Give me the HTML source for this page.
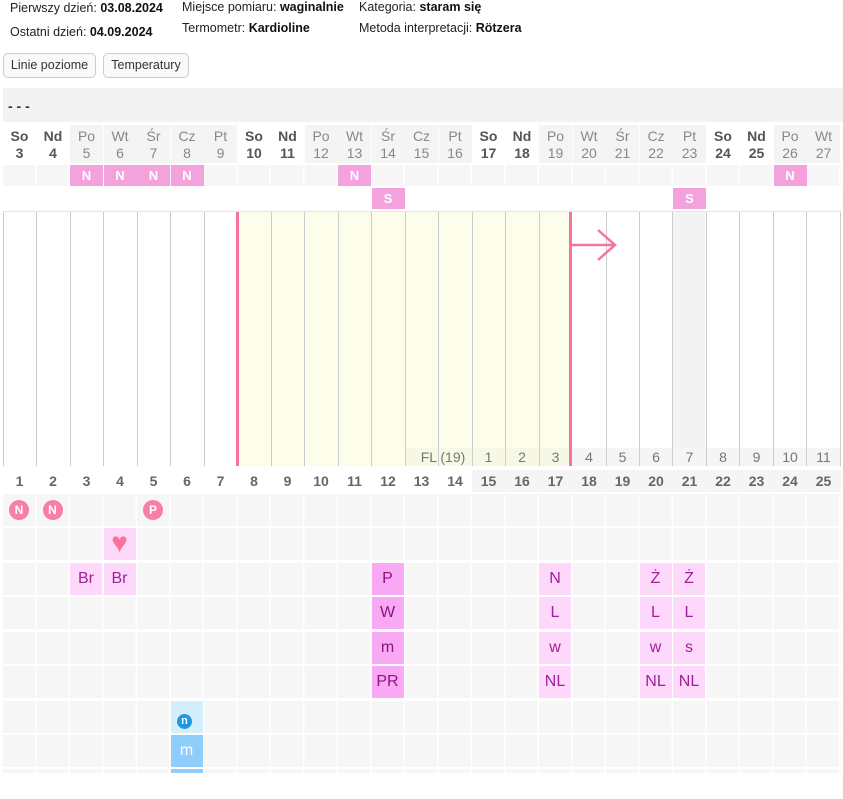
<!DOCTYPE html><html><head><meta charset="utf-8"><style>
body{margin:0;width:843px;height:799px;background:#fff;font-family:"Liberation Sans",sans-serif;position:relative;overflow:hidden}
.a{position:absolute}
.t{font-size:12.5px;color:#222;position:absolute;white-space:nowrap}
.t b{color:#111}
.btn{position:absolute;top:53px;height:23px;border:1px solid #ccc;border-radius:5px;background:#f9f9f9;font-size:12.5px;line-height:23px;text-align:center;color:#333}
.dh{position:absolute;top:125px;width:33px;height:38px;text-align:center;font-size:14px;line-height:17px;color:#888;background:#f4f4f4;padding-top:3px;box-sizing:border-box}
.dh.w{background:#fff;color:#555;font-weight:bold}
.nb{position:absolute;width:33px;height:21px;background:#f4a2de;color:#fff;font-size:13px;font-weight:bold;text-align:center;line-height:21px}
.gr{position:absolute;left:3px;width:838px;background:repeating-linear-gradient(90deg,#f6f6f6 0 32px,#fff 32px 33.5px)}
.vl{position:absolute;top:212px;height:254px;width:1px;background:#ccc}
.c{position:absolute;width:32px;height:32px;text-align:center;line-height:32px;font-size:16px;color:#a0209a}
.lt{background:#fdd8fb}.dk{background:#f9a9f3;color:#8a1382}
.cn{position:absolute;top:470px;width:33px;text-align:center;font-size:14px;font-weight:bold;color:#666;line-height:22px}
.fl{position:absolute;top:448px;width:33px;height:18px;text-align:center;font-size:14px;color:#777;line-height:18px}
.ci{position:absolute;width:20px;height:20px;border-radius:50%;background:#f77fa5;color:#fff;font-size:12px;font-weight:bold;text-align:center;line-height:20px}
</style></head><body>
<div class="t" style="left:10px;top:1px">Pierwszy dzień: <b>03.08.2024</b></div>
<div class="t" style="left:10px;top:25px">Ostatni dzień: <b>04.09.2024</b></div>
<div class="t" style="left:182px;top:0px">Miejsce pomiaru: <b>waginalnie</b></div>
<div class="t" style="left:182px;top:21px">Termometr: <b>Kardioline</b></div>
<div class="t" style="left:359px;top:0px">Kategoria: <b>staram się</b></div>
<div class="t" style="left:359px;top:21px">Metoda interpretacji: <b>Rötzera</b></div>
<div class="btn" style="left:3px;width:91px">Linie poziome</div>
<div class="btn" style="left:103px;width:84px">Temperatury</div>
<div class="a" style="left:3px;top:88px;width:840px;height:34px;background:#f3f3f3;font-size:14px;font-weight:bold;line-height:36px;padding-left:5px;box-sizing:border-box;color:#333">- - -</div>

<div class="dh w" style="left:3px">So<br>3</div>
<div class="dh w" style="left:36.5px">Nd<br>4</div>
<div class="dh" style="left:70px">Po<br>5</div>
<div class="dh" style="left:103.5px">Wt<br>6</div>
<div class="dh" style="left:137px">Śr<br>7</div>
<div class="dh" style="left:170.5px">Cz<br>8</div>
<div class="dh" style="left:204px">Pt<br>9</div>
<div class="dh w" style="left:237.5px">So<br>10</div>
<div class="dh w" style="left:271px">Nd<br>11</div>
<div class="dh" style="left:304.5px">Po<br>12</div>
<div class="dh" style="left:338px">Wt<br>13</div>
<div class="dh" style="left:371.5px">Śr<br>14</div>
<div class="dh" style="left:405px">Cz<br>15</div>
<div class="dh" style="left:438.5px">Pt<br>16</div>
<div class="dh w" style="left:472px">So<br>17</div>
<div class="dh w" style="left:505.5px">Nd<br>18</div>
<div class="dh" style="left:539px">Po<br>19</div>
<div class="dh" style="left:572.5px">Wt<br>20</div>
<div class="dh" style="left:606px">Śr<br>21</div>
<div class="dh" style="left:639.5px">Cz<br>22</div>
<div class="dh" style="left:673px">Pt<br>23</div>
<div class="dh w" style="left:706.5px">So<br>24</div>
<div class="dh w" style="left:740px">Nd<br>25</div>
<div class="dh" style="left:773.5px">Po<br>26</div>
<div class="dh" style="left:807px">Wt<br>27</div>

<div class="gr" style="top:165px;height:21px"></div>
<div class="nb" style="left:70px;top:165px">N</div>
<div class="nb" style="left:103.5px;top:165px">N</div>
<div class="nb" style="left:137px;top:165px">N</div>
<div class="nb" style="left:170.5px;top:165px">N</div>
<div class="nb" style="left:338px;top:165px">N</div>
<div class="nb" style="left:773.5px;top:165px">N</div>
<div class="nb" style="left:371.5px;top:188px">S</div>
<div class="nb" style="left:673px;top:188px">S</div>

<div class="a" style="left:3px;top:211px;width:838px;height:1px;background:#e6e6e6"></div>
<div class="a" style="left:237px;top:212px;width:334px;height:254px;background:#fdfdeb"></div>
<div class="a" style="left:672px;top:212px;width:33px;height:254px;background:#f3f3f3"></div>
<div class="a" style="left:405px;top:448px;width:436px;height:18px;background:#f5f5f5"></div>
<div class="a" style="left:405px;top:448px;width:166px;height:18px;background:#f7f7e6"></div>
<div class="vl" style="left:3px"></div><div class="vl" style="left:36px"></div><div class="vl" style="left:70px"></div><div class="vl" style="left:103px"></div><div class="vl" style="left:137px"></div><div class="vl" style="left:170px"></div><div class="vl" style="left:204px"></div><div class="vl" style="left:271px"></div><div class="vl" style="left:304px"></div><div class="vl" style="left:338px"></div><div class="vl" style="left:371px"></div><div class="vl" style="left:405px"></div><div class="vl" style="left:438px"></div><div class="vl" style="left:472px"></div><div class="vl" style="left:505px"></div><div class="vl" style="left:539px"></div><div class="vl" style="left:606px"></div><div class="vl" style="left:639px"></div><div class="vl" style="left:672px"></div><div class="vl" style="left:706px"></div><div class="vl" style="left:739px"></div><div class="vl" style="left:773px"></div><div class="vl" style="left:806px"></div><div class="vl" style="left:840px"></div>
<div class="a" style="left:236px;top:212px;width:3px;height:254px;background:#f7739b"></div>
<div class="a" style="left:569px;top:212px;width:3px;height:254px;background:#f7739b"></div>
<svg class="a" style="left:570px;top:228px" width="50" height="36"><path d="M0 17H45M28 2L45 17L28 32" stroke="#f7739b" stroke-width="2.5" fill="none"/></svg>
<div class="fl" style="left:414px;width:58px">FL (19)</div>
<div class="fl" style="left:472px">1</div><div class="fl" style="left:505.5px">2</div><div class="fl" style="left:539px">3</div><div class="fl" style="left:572.5px">4</div><div class="fl" style="left:606px">5</div><div class="fl" style="left:639.5px">6</div><div class="fl" style="left:673px">7</div><div class="fl" style="left:706.5px">8</div><div class="fl" style="left:740px">9</div><div class="fl" style="left:773.5px">10</div><div class="fl" style="left:807px">11</div>

<div class="a" style="left:472px;top:470px;width:369px;height:22px;background:#f5f5f5"></div>
<div class="cn" style="left:3px">1</div><div class="cn" style="left:36.5px">2</div><div class="cn" style="left:70px">3</div><div class="cn" style="left:103.5px">4</div><div class="cn" style="left:137px">5</div><div class="cn" style="left:170.5px">6</div><div class="cn" style="left:204px">7</div><div class="cn" style="left:237.5px">8</div><div class="cn" style="left:271px">9</div><div class="cn" style="left:304.5px">10</div><div class="cn" style="left:338px">11</div><div class="cn" style="left:371.5px">12</div><div class="cn" style="left:405px">13</div><div class="cn" style="left:438.5px">14</div><div class="cn" style="left:472px">15</div><div class="cn" style="left:505.5px">16</div><div class="cn" style="left:539px">17</div><div class="cn" style="left:572.5px">18</div><div class="cn" style="left:606px">19</div><div class="cn" style="left:639.5px">20</div><div class="cn" style="left:673px">21</div><div class="cn" style="left:706.5px">22</div><div class="cn" style="left:740px">23</div><div class="cn" style="left:773.5px">24</div><div class="cn" style="left:807px">25</div>

<div class="gr" style="top:494px;height:32px"></div>
<div class="gr" style="top:528px;height:32px"></div>
<div class="gr" style="top:563px;height:32px"></div>
<div class="gr" style="top:597px;height:32px"></div>
<div class="gr" style="top:632px;height:32px"></div>
<div class="gr" style="top:666px;height:32px"></div>
<div class="gr" style="top:701px;height:32px"></div>
<div class="gr" style="top:735px;height:32px"></div>
<div class="gr" style="top:769px;height:4px"></div>

<div class="ci" style="left:9px;top:500px">N</div>
<div class="ci" style="left:42.5px;top:500px">N</div>
<div class="ci" style="left:143px;top:500px">P</div>
<div class="c lt" style="left:103.5px;top:528px;color:#f7739b;font-size:28px;line-height:30px">♥</div>
<div class="c lt" style="left:70px;top:563px">Br</div>
<div class="c lt" style="left:103.5px;top:563px">Br</div>
<div class="c dk" style="left:371.5px;top:563px">P</div>
<div class="c dk" style="left:371.5px;top:597px">W</div>
<div class="c dk" style="left:371.5px;top:632px">m</div>
<div class="c dk" style="left:371.5px;top:666px">PR</div>
<div class="c lt" style="left:539px;top:563px">N</div>
<div class="c lt" style="left:539px;top:597px">L</div>
<div class="c lt" style="left:539px;top:632px">w</div>
<div class="c lt" style="left:539px;top:666px">NL</div>
<div class="c lt" style="left:639.5px;top:563px">Ż</div>
<div class="c lt" style="left:673px;top:563px">Ż</div>
<div class="c lt" style="left:639.5px;top:597px">L</div>
<div class="c lt" style="left:673px;top:597px">L</div>
<div class="c lt" style="left:639.5px;top:632px">w</div>
<div class="c lt" style="left:673px;top:632px">s</div>
<div class="c lt" style="left:639.5px;top:666px">NL</div>
<div class="c lt" style="left:673px;top:666px">NL</div>
<div class="c" style="left:170.5px;top:701px;background:#d3effc"></div>
<div class="ci" style="left:177px;top:714px;width:15px;height:15px;line-height:14px;background:#2196e3;font-size:11px">n</div>
<div class="c" style="left:170.5px;top:735px;background:#91cdfb;color:#fff">m</div>
<div class="a" style="left:170.5px;top:769px;width:32px;height:4px;background:#91cdfb"></div>
</body></html>
